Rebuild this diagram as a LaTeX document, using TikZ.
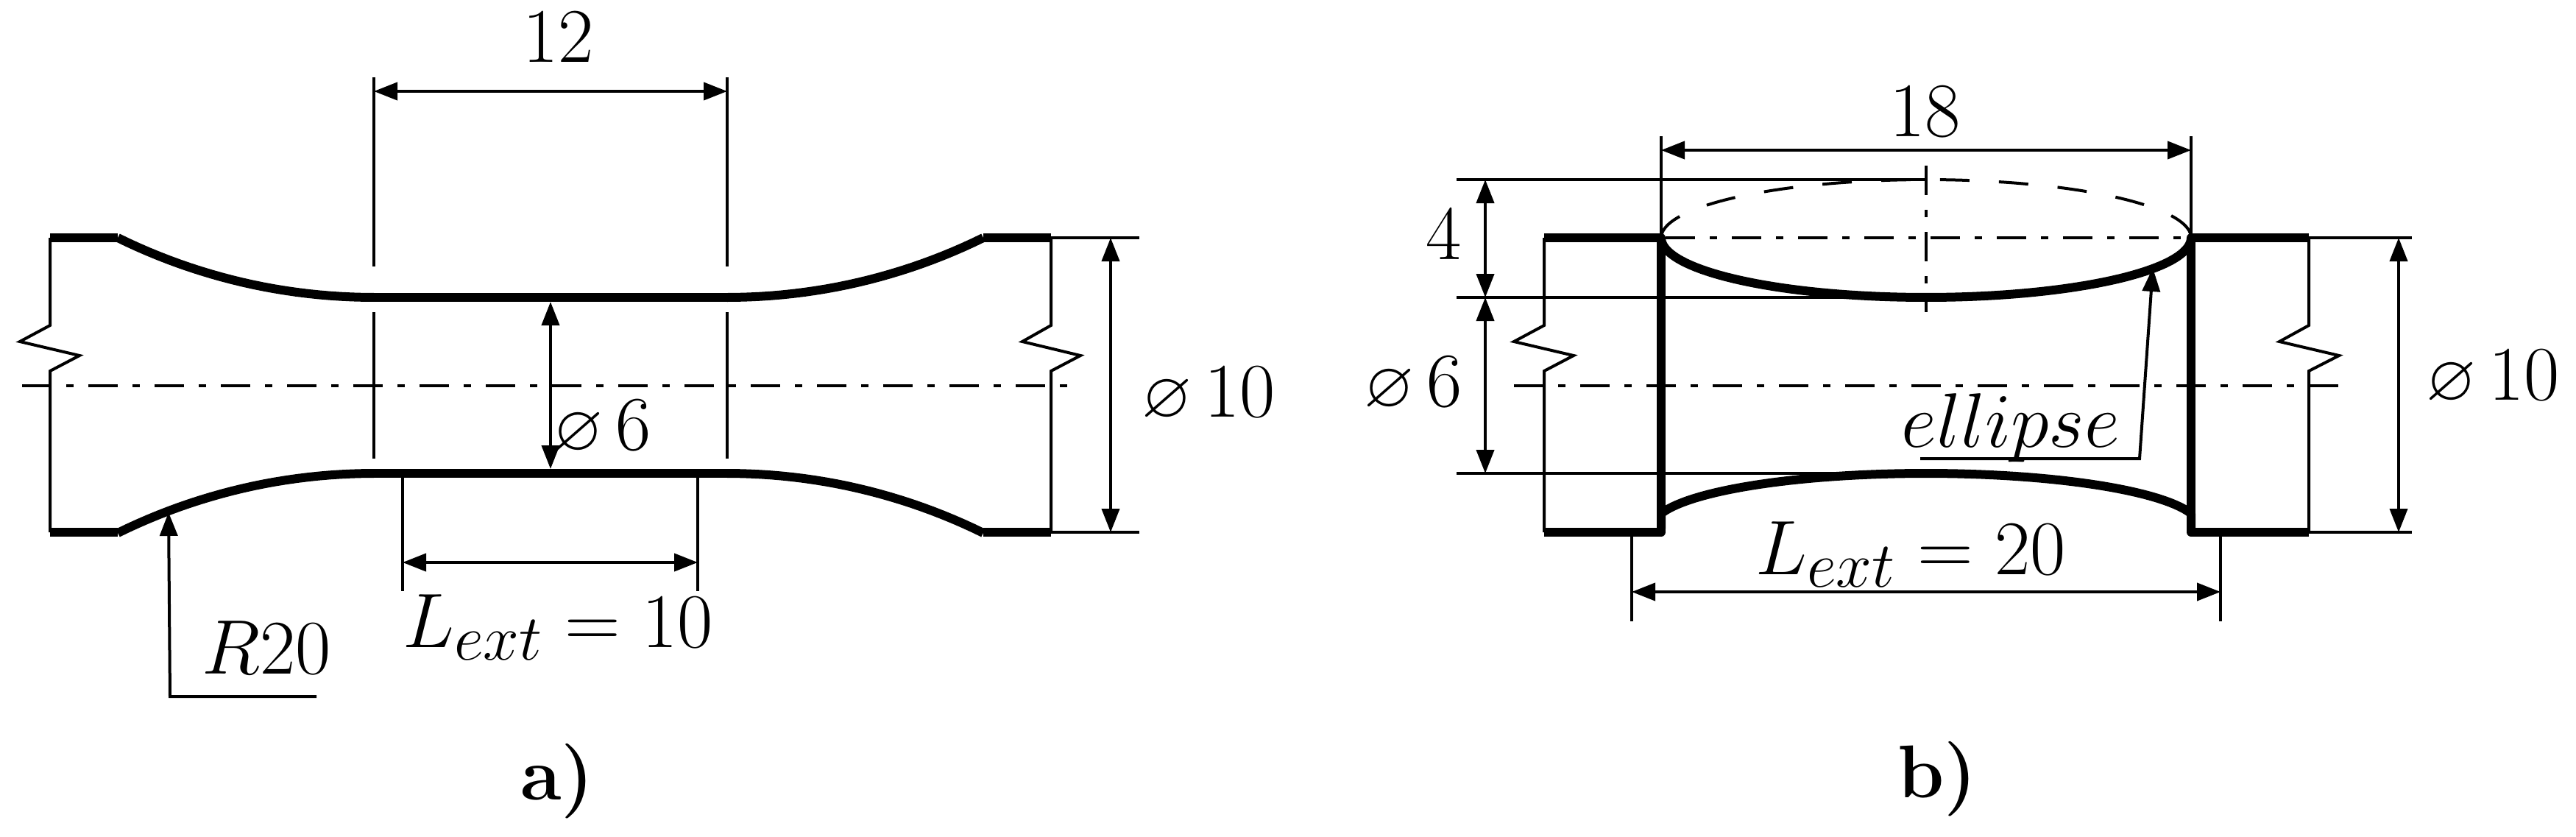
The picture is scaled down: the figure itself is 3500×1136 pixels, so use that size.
\documentclass[tikz,border=0pt]{standalone}
\usepackage{amsmath}
\usepackage{amssymb}
\usetikzlibrary{arrows.meta}
\newcommand{\pxu}{*0.01cm}
\newcommand{\diasign}{{\fontsize{20.74}{24}\selectfont$\varnothing$}}
\tikzset{
  thinline/.style={line width=4\pxu},
  thickline/.style={line width=12\pxu, line join=round},
  axisline/.style={thinline, dash pattern=on 40\pxu off 20\pxu on 10\pxu off 20\pxu},
  dimline/.style={thinline, {Stealth[length=32\pxu,width=24\pxu,inset=0pt]}-{Stealth[length=32\pxu,width=24\pxu,inset=0pt]}},
  leaderline/.style={thinline, -{Stealth[length=32\pxu,width=24\pxu,inset=0pt]}},
  dimlabel/.style={font=\fontsize{24.88}{30}\selectfont, inner sep=0pt, scale=1.2},
  partlabel/.style={font=\fontsize{24.88}{30}\selectfont\bfseries, inner sep=0pt, scale=1.16}
}

\begin{document}
\begin{tikzpicture}[x=0.01cm,y=-0.01cm]
\useasboundingbox (0,0) rectangle (3500,1136);

% specimen a)
\draw[thickline] (68,323)--(160,323);
\draw[thickline] (68,723)--(160,723);
\draw[thickline] (1336,323)--(1428,323);
\draw[thickline] (1336,723)--(1428,723);
\draw[thickline] (508,404)--(988,404);
\draw[thickline] (508,643)--(988,643);
\draw[thickline, domain=-26.2:0] plot ({508+788*sin(\x)}, {-384+788*cos(\x)});
\draw[thickline, domain=0:26.2] plot ({988+788*sin(\x)}, {-384+788*cos(\x)});
\draw[thickline, domain=-26.2:0] plot ({508+788*sin(\x)}, {1431-788*cos(\x)});
\draw[thickline, domain=0:26.2] plot ({988+788*sin(\x)}, {1431-788*cos(\x)});
\draw[thinline] (68,323)--(68,442)--(27,464)--(108,483)--(68,504)--(68,723);
\draw[thinline] (1428,323)--(1428,442)--(1389,464)--(1468,483)--(1428,504)--(1428,723);
\draw[axisline] (30,524)--(1451,524);

\coordinate (a12l) at (508,124);
\coordinate (a12r) at (988,124);
\coordinate (a6t) at (748,410);
\coordinate (a6b) at (748,637);
\coordinate (a10t) at (1509,323);
\coordinate (a10b) at (1509,723);
\coordinate (aextl) at (547,764);
\coordinate (aextr) at (948,764);
\coordinate (ardtip) at (229,696);
\coordinate (ardknee) at (231,946);
\coordinate (ardend) at (430,946);
\draw[thinline] (508,105)--(508,362);
\draw[thinline] (988,105)--(988,362);
\draw[thinline] (508,424)--(508,623);
\draw[thinline] (988,424)--(988,623);
\draw[thinline] (547,648)--(547,803);
\draw[thinline] (948,648)--(948,803);
\draw[thinline] (1428,323)--(1548,323);
\draw[thinline] (1428,723)--(1548,723);
\draw[dimline] (a12l)--(a12r);
\draw[dimline] (a6t)--(a6b);
\draw[dimline] (a10t)--(a10b);
\draw[dimline] (aextl)--(aextr);
\draw[leaderline] (ardend)--(ardknee)--(ardtip);

\node[dimlabel] (alab12) at (759,51) {$12$};
\node[dimlabel] (alab6) at (818,581) {\diasign\,$6$};
\node[dimlabel] (alab10) at (1642,536) {\diasign\,$10$};
\node[dimlabel] (alabext) at (758,852) {$L_{ext}=10$};
\node[dimlabel] (alabrd) at (362,880) {$R20$};
\node[partlabel] (alabel) at (757,1061) {a)};

% specimen b)
\draw[thickline] (2098,323)--(2257,323)--(2257,723)--(2098,723);
\draw[thickline] (3137,323)--(2977,323)--(2977,723)--(3137,723);
\draw[thickline, domain=0:180, samples=80] plot ({2617+360*cos(\x)}, {323+81*sin(\x)});
\draw[thickline] (2257,718)--plot[domain=166:14, samples=60] ({2617+371*cos(\x)}, {715-72*sin(\x)})--(2977,718);
\draw[thinline, dash pattern=on 40\pxu off 40\pxu, domain=180:360, samples=80] plot ({2617+360*cos(\x)}, {323+79*sin(\x)});
\draw[thinline] (2098,323)--(2098,442)--(2057,464)--(2138,483)--(2098,504)--(2098,723);
\draw[thinline] (3137,323)--(3137,442)--(3097,464)--(3178,483)--(3137,504)--(3137,723);
\draw[axisline] (2057,524)--(3179,524);
\draw[axisline] (2263,323)--(2971,323);
\draw[axisline] (2617,225)--(2617,424);

\coordinate (b18l) at (2257,204);
\coordinate (b18r) at (2977,204);
\coordinate (b4t) at (2018,244);
\coordinate (b4b) at (2018,404);
\coordinate (b6b) at (2018,643);
\coordinate (b10t) at (3259,323);
\coordinate (b10b) at (3259,723);
\coordinate (bextl) at (2217,804);
\coordinate (bextr) at (3017,804);
\coordinate (beltip) at (2925,364);
\coordinate (belknee) at (2907,623);
\coordinate (belend) at (2609,623);
\draw[thinline] (2257,185)--(2257,323);
\draw[thinline] (2977,185)--(2977,323);
\draw[thinline] (1979,244)--(2617,244);
\draw[thinline] (1979,404)--(2617,404);
\draw[thinline] (1979,643)--(2617,643);
\draw[thinline] (3137,323)--(3277,323);
\draw[thinline] (3137,723)--(3277,723);
\draw[thinline] (2217,723)--(2217,844);
\draw[thinline] (3017,723)--(3017,844);
\draw[dimline] (b18l)--(b18r);
\draw[dimline] (b4t)--(b4b);
\draw[dimline] (b4b)--(b6b);
\draw[dimline] (b10t)--(b10b);
\draw[dimline] (bextl)--(bextr);
\draw[leaderline] (belend)--(belknee)--(beltip);

\node[dimlabel] (blab18) at (2616,152) {$18$};
\node[dimlabel] (blab4) at (1962,319) {$4$};
\node[dimlabel] (blab6) at (1920,522) {\diasign\,$6$};
\node[dimlabel] (blab10) at (3387,513) {\diasign\,$10$};
\node[dimlabel] (blabell) at (2732,581) {$ellipse$};
\node[dimlabel] (blabext) at (2596,753) {$L_{ext}=20$};
\node[partlabel] (blabel) at (2632,1058) {b)};
\end{tikzpicture}
\end{document}
